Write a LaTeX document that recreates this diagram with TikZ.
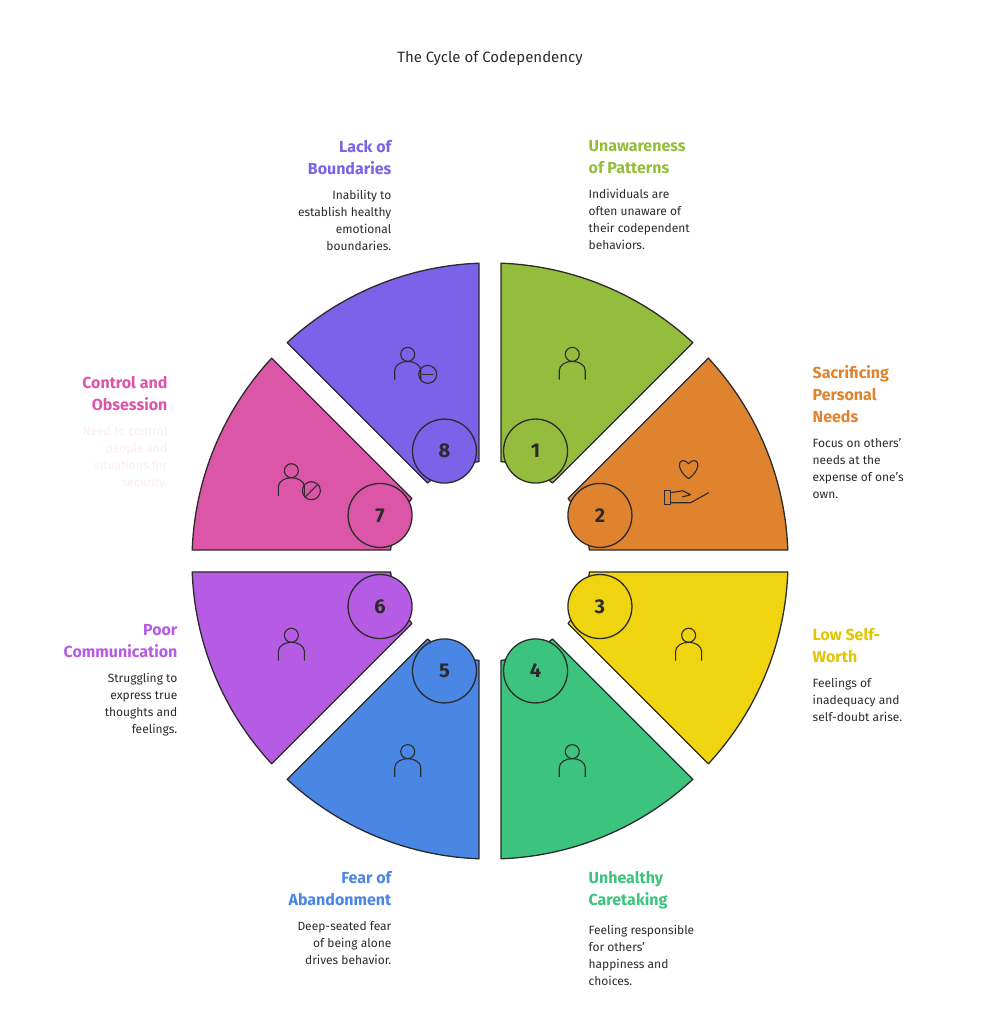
\documentclass[tikz,border=0pt]{standalone}
\usepackage{fontspec}
\setmainfont{Fira Sans}
\usetikzlibrary{positioning}
\definecolor{cA}{HTML}{95BD3D}
\definecolor{cB}{HTML}{E0832F}
\definecolor{cC}{HTML}{F0D410}
\definecolor{cD}{HTML}{3CC47E}
\definecolor{cE}{HTML}{4A86E4}
\definecolor{cF}{HTML}{B65BE3}
\definecolor{cG}{HTML}{DC56A8}
\definecolor{cH}{HTML}{7B62E8}
\definecolor{txtC}{HTML}{E2C400}
\definecolor{ink}{HTML}{2B2B2B}
\tikzset{every path/.style={line width=1.3pt},
  numdot/.style={circle,draw=ink,minimum size=64pt,inner sep=0pt,font=\fontsize{20}{20}\selectfont\bfseries,text=ink},
  headline/.style={font=\fontsize{16}{22}\selectfont\bfseries,inner sep=0pt},
  blurb/.style={font=\fontsize{12}{17}\selectfont,text=ink,inner sep=0pt},
  glyph/.style={draw=ink,line width=1.1pt,line cap=round,line join=round}}

\begin{document}
\begin{tikzpicture}[x=1pt,y=1pt]
\useasboundingbox (0,0) rectangle (980,1025);
\coordinate (C) at (490,464);
\node[font=\fontsize{15}{15}\selectfont,text=ink] (title) at (490,967) {The Cycle of Codependency};
% sectors
\foreach \n/\a/\col in {1/90/cA,2/45/cB,3/0/cC,4/-45/cD,5/-90/cE,6/-135/cF,7/-180/cG,8/135/cH}{
  \pgfmathsetmacro{\b}{\a-45}
  \fill[\col,draw=ink,line join=round] ([shift={(\a-6.3:100)}]C) -- ([shift={(\a-2.1:298)}]C)
    arc (\a-2.1:\b+2.1:298) -- ([shift={(\b+6.3:100)}]C) arc (\b+6.3:\a-6.3:100) -- cycle;
  \node[numdot,fill=\col] (n\n) at ([shift={(\a-22.5:119)}]C) {\n};
  \coordinate (g\n) at ([shift={(\a-22.5:215)}]C);
}
% icons
\foreach \n in {1,3,4,5,6,7,8}{
  \draw[glyph] ([shift={(0,8)}]g\n) circle (7);
  \draw[glyph] ([shift={(-13,-17)}]g\n) -- ([shift={(-13,-8)}]g\n) arc (180:0:13 and 9) -- ([shift={(13,-17)}]g\n);
}
\draw[glyph] ([shift={(0,0)}]g2) .. controls ([shift={(-16,12)}]g2) and ([shift={(-8,24)}]g2) .. ([shift={(0,15)}]g2)
  .. controls ([shift={(8,24)}]g2) and ([shift={(16,12)}]g2) .. ([shift={(0,0)}]g2);
\draw[glyph] ([shift={(-24,-26)}]g2) rectangle ([shift={(-18,-12)}]g2);
\draw[glyph] ([shift={(-18,-14)}]g2) -- ([shift={(-6,-12)}]g2) -- ([shift={(2,-16)}]g2) -- ([shift={(-6,-18)}]g2);
\draw[glyph] ([shift={(-18,-24)}]g2) -- ([shift={(2,-24)}]g2) -- ([shift={(20,-14)}]g2);
\draw[glyph] ([shift={(20,-12)}]g8) circle (9);
\draw[glyph] ([shift={(15,-12)}]g8) -- ([shift={(25,-12)}]g8);
\draw[glyph] ([shift={(20,-12)}]g7) circle (9);
\draw[glyph] ([shift={(14,-18)}]g7) -- ([shift={(26,-6)}]g7);
% labels
\node[headline,text=cA,anchor=north west,align=left] (t1) at (588,885) {Unawareness\\of Patterns};
\node[blurb,align=left,below=14pt of t1.south west,anchor=north west] (d1) {Individuals are\\often unaware of\\their codependent\\behaviors.};
\node[headline,text=cB,anchor=north west,align=left] (t2) at (812,660) {Sacrificing\\Personal\\Needs};
\node[blurb,align=left,below=14pt of t2.south west,anchor=north west] (d2) {Focus on others'\\needs at the\\expense of one's\\own.};
\node[headline,text=txtC,anchor=north west,align=left] (t3) at (812,397) {Low Self-\\Worth};
\node[blurb,align=left,below=14pt of t3.south west,anchor=north west] (d3) {Feelings of\\inadequacy and\\self-doubt arise.};
\node[headline,text=cD,anchor=north west,align=left] (t4) at (588,154) {Unhealthy\\Caretaking};
\node[blurb,align=left,below=14pt of t4.south west,anchor=north west] (d4) {Feeling responsible\\for others'\\happiness and\\choices.};
\node[headline,text=cE,anchor=north east,align=right] (t5) at (392,154) {Fear of\\Abandonment};
\node[blurb,align=right,below=14pt of t5.south east,anchor=north east] (d5) {Deep-seated fear\\of being alone\\drives behavior.};
\node[headline,text=cF,anchor=north east,align=right] (t6) at (178,401) {Poor\\Communication};
\node[blurb,align=right,below=14pt of t6.south east,anchor=north east] (d6) {Struggling to\\express true\\thoughts and\\feelings.};
\node[headline,text=cG,anchor=north east,align=right] (t7) at (168,649) {Control and\\Obsession};
\node[blurb,text=cG!12,align=right,below=14pt of t7.south east,anchor=north east] (d7) {Need to control\\people and\\situations for\\security.};
\node[headline,text=cH,anchor=north east,align=right] (t8) at (392,885) {Lack of\\Boundaries};
\node[blurb,align=right,below=14pt of t8.south east,anchor=north east] (d8) {Inability to\\establish healthy\\emotional\\boundaries.};
\end{tikzpicture}
\end{document}
